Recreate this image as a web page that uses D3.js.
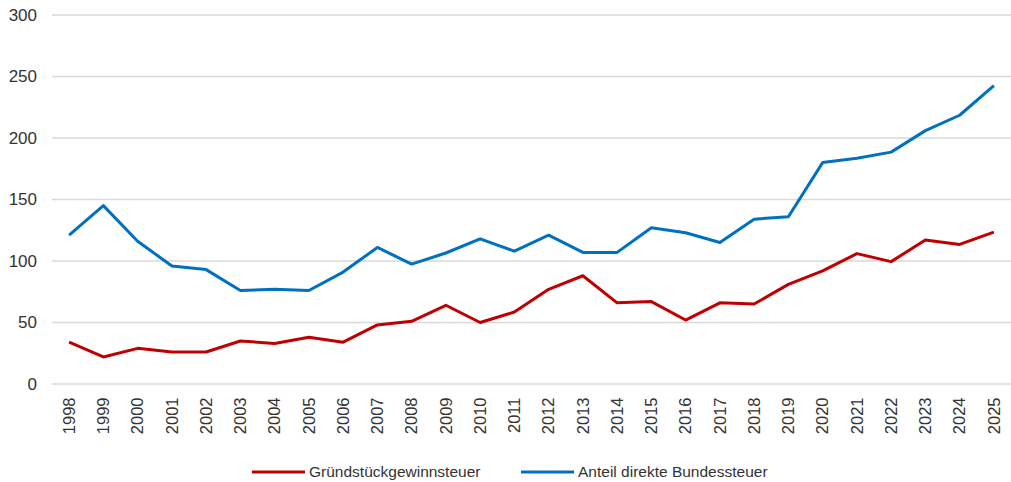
<!DOCTYPE html>
<html><head><meta charset="utf-8">
<script src="https://cdn.jsdelivr.net/npm/d3@7"></script>
<style>
html,body{margin:0;padding:0;background:#fff;}
svg text{font-family:"Liberation Sans",Arial,sans-serif;fill:#333;}
</style></head>
<body><svg id="c" width="1011" height="482"></svg>
<script>
const years = ["1998","1999","2000","2001","2002","2003","2004","2005","2006","2007","2008","2009","2010","2011","2012","2013","2014","2015","2016","2017","2018","2019","2020","2021","2022","2023","2024","2025"];
const grundstueck = [34,22,29,26,26,35,33,38,34,48,51,64,50,58.5,77,88,66,67,52,66,65,81,92,106,99.5,117,113.5,123.5];
const bundessteuer = [121,145,116,96,93,76,77,76,91,111,97.5,106.5,118,108,121,107,107,127,123,115,134,136,180,183.5,188.5,206,218.5,242.5];
const yTicks = [0,50,100,150,200,250,300];
const seriesNames = ["Gründstückgewinnsteuer","Anteil direkte Bundessteuer"];
const colors = ["#C00000","#0070C0"];

(function(){
const svg = d3.select("#c");
const pLeft = 52, pRight = 1011, pTop = 15, pBottom = 384;
const x = d3.scaleBand().domain(years).range([pLeft, pRight]);
const y = d3.scaleLinear().domain([0,300]).range([pBottom, pTop]);

// grid
svg.append("g").selectAll("line").data(yTicks).join("line")
  .attr("x1", pLeft).attr("x2", pRight)
  .attr("y1", d=>y(d)).attr("y2", d=>y(d))
  .attr("stroke","#d9d9d9").attr("stroke-width",1.5);

// y axis labels
const yAxis = d3.axisLeft(y).tickValues(yTicks).tickSize(0).tickPadding(0);
const gy = svg.append("g").attr("transform","translate(37,0)").call(yAxis);
gy.select(".domain").remove();
gy.selectAll("text").attr("font-size",17).style("font-family","'Liberation Sans',Arial,sans-serif").attr("fill","#333");

// x axis labels
const xAxis = d3.axisBottom(x).tickSize(0).tickPadding(0);
const gx = svg.append("g").attr("transform",`translate(0,${pBottom})`).call(xAxis);
gx.select(".domain").remove();
gx.selectAll("text")
  .attr("font-size",16.5).style("font-family","'Liberation Sans',Arial,sans-serif").attr("fill","#333")
  .attr("transform","rotate(-90)")
  .attr("text-anchor","end")
  .attr("x",-13.5).attr("y",0).attr("dy","0.35em");

// lines
const line = d3.line().x((d,i)=>x(years[i])+x.bandwidth()/2).y(d=>y(d));
[grundstueck, bundessteuer].forEach((s,i)=>{
  svg.append("path").datum(s).attr("d",line)
    .attr("fill","none").attr("stroke",colors[i]).attr("stroke-width",3)
    .attr("stroke-linejoin","round");
});

// legend
const legendX = [252, 521];
seriesNames.forEach((n,i)=>{
  const g = svg.append("g").attr("transform",`translate(${legendX[i]},472)`);
  g.append("line").attr("x1",0).attr("x2",53).attr("y1",0).attr("y2",0)
    .attr("stroke",colors[i]).attr("stroke-width",3);
  g.append("text").attr("x",57).attr("y",0).attr("dy","0.35em")
    .attr("font-size",15.5).text(n);
});
})();
</script></body></html>
